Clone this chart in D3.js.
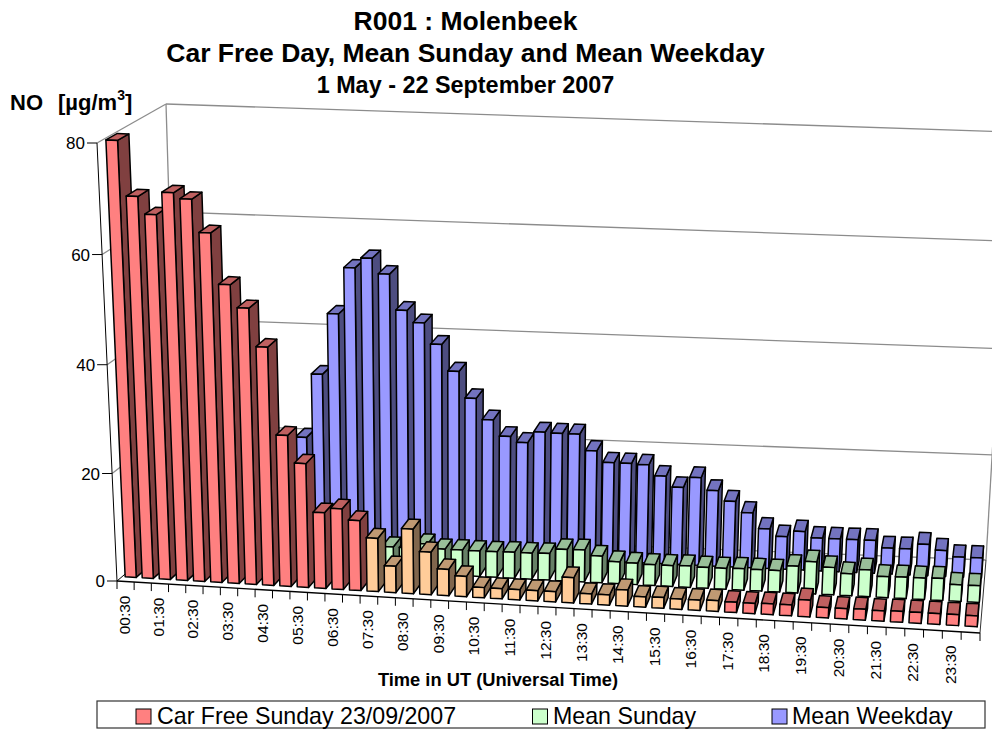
<!DOCTYPE html>
<html><head><meta charset="utf-8">
<script src="https://cdn.jsdelivr.net/npm/d3@7"></script>
<style>html,body{margin:0;padding:0;background:#fff}svg{display:block}text{font-family:"Liberation Sans",Arial,sans-serif;fill:#000}</style>
</head><body><svg id="c" width="992" height="729"></svg>
<script>
const categories = ["00:30","01:00","01:30","02:00","02:30","03:00","03:30","04:00","04:30","05:00","05:30","06:00","06:30","07:00","07:30","08:00","08:30","09:00","09:30","10:00","10:30","11:00","11:30","12:00","12:30","13:00","13:30","14:00","14:30","15:00","15:30","16:00","16:30","17:00","17:30","18:00","18:30","19:00","19:30","20:00","20:30","21:00","21:30","22:00","22:30","23:00","23:30","00:00"];
const seriesNames = ["Car Free Sunday 23/09/2007","Mean Sunday","Mean Weekday"];
const carFreeSunday = [80,70.1,67,71.1,70.1,64.2,55,50.9,44,28,23,14.1,15,13,9.9,4.9,12,7.9,4.9,3.8,1.9,1.9,1.9,1.9,1.9,4.7,1.9,1.9,3,1.9,2,1.9,1.9,2,1.9,1.9,2,2,3.1,1.9,1.9,2,1.9,2,2,2,2,2];
const meanSunday = [6,5,4,4,3,3,3,3,3,4,4,4,5,5,4.7,4.7,5.6,4.8,4.8,4.8,4.8,4.9,4.9,5,5.9,6,5,4.1,4,3.9,3.9,4,3.9,3.9,4,4,4,5,6,5.1,4.1,5,3.9,4,4,4.1,3.1,3.1];
const meanWeekday = [15,13,11,10,10,11,14,17,21,33,44.4,53.1,55,52.2,45.6,43.4,39.5,34.6,29.7,25.8,22.8,21.8,23.9,23.8,23.8,20.8,18.7,18.7,18.6,16.6,14.6,16.6,14.3,12.4,10.4,7.5,6.2,7.3,6.2,6.2,6.2,6.2,4.9,4.9,5.9,4.9,3.8,3.8];
const seriesValues = [carFreeSunday, meanSunday, meanWeekday];
const valueTicks = [0,20,40,60,80];
const highlightFirst = "07:30", highlightLast = "17:00";
const titleLines = ["R001 : Molenbeek","Car Free Day, Mean Sunday and Mean Weekday","1 May - 22 September 2007"];

const palette = {
  red:{face:"#FF8080",side:"#804040",top:"#BF6060"},
  orange:{face:"#FFCC99",side:"#80664D",top:"#BF9973"},
  green:{face:"#CCFFCC",side:"#668066",top:"#99BF99"},
  blue:{face:"#9999FF",side:"#4D4D80",top:"#7373BF"}
};
const seriesColor = [palette.red, palette.green, palette.blue];

// chart box corners on screen: [front/back][bottom/top][left/right]
const box = {
  fbl:[117,581], fbr:[980,633], bbl:[179,528], bbr:[986,560],
  ftl:[97,143], ftr:[1006,188], btl:[166,104], btr:[1011,132]
};
const uWarp = 1.05, hWarp = 1.025;
const warp = (t,r)=>t/(t+(1-t)*r);
function lerp(a,b,t){return [a[0]+(b[0]-a[0])*t,a[1]+(b[1]-a[1])*t];}
function P(u,v,h){
  const w = warp(u,uWarp), z = warp(h,hWarp);
  const fb = lerp(box.fbl,box.fbr,w), ft = lerp(box.ftl,box.ftr,w);
  const bb = lerp(box.bbl,box.bbr,w), bt = lerp(box.btl,box.btr,w);
  return lerp(lerp(fb,bb,v),lerp(ft,bt,v),z);
}
const xBand = d3.scaleBand().domain(categories).range([0,1]).paddingInner(0.35).paddingOuter(0.175);
const xSlot = d3.scaleBand().domain(categories).range([0,1]);
const depth = d3.scaleBand().domain(seriesNames).range([0,1]).paddingInner(0.5).paddingOuter(0.25);
const hScale = d3.scaleLinear().domain([0,80]).range([0,1]);

const svg = d3.select("#c");
const gridCol = "#8c8c8c";
const line = (g,a,b,col,w)=>g.append("line").attr("x1",a[0]).attr("y1",a[1]).attr("x2",b[0]).attr("y2",b[1]).attr("stroke",col).attr("stroke-width",w);

const walls = svg.append("g");
valueTicks.forEach(t=>{
  const h = hScale(t);
  if(t>0){
    line(walls,P(0,0,h),P(0,1,h),gridCol,1.3);
    line(walls,P(0,1,h),P(1,1,h),gridCol,1.3);
  }
});
line(walls,P(0,1,0),P(0,1,1),gridCol,1.3);
line(walls,P(1,1,0),P(1,1,1),gridCol,1.3);
line(walls,P(0,1,0),P(1,1,0),gridCol,1.3);
line(walls,P(0,0,0),P(0,1,0),"#000",1);
line(walls,P(1,0,0),P(1,1,0),"#333",1);
line(walls,P(0,0,0),P(0,0,1),"#000",1);

const bars = svg.append("g");
function poly(pts,fill){
  bars.append("polygon").attr("points",pts.map(p=>p.join(",")).join(" "))
    .attr("fill",fill).attr("stroke","#000").attr("stroke-width",1.5).attr("stroke-linejoin","round");
}
const hiA = categories.indexOf(highlightFirst), hiB = categories.indexOf(highlightLast);
[2,1,0].forEach(s=>{
  const vals = seriesValues[s];
  const v0 = depth(seriesNames[s]), v1 = v0+depth.bandwidth();
  categories.forEach((c,i)=>{
    const u0 = xBand(c), u1 = u0+xBand.bandwidth(), h = hScale(vals[i]);
    const col = (s===0 && i>=hiA && i<=hiB) ? palette.orange : seriesColor[s];
    poly([P(u1,v0,0),P(u1,v1,0),P(u1,v1,h),P(u1,v0,h)],col.side);
    poly([P(u0,v0,h),P(u1,v0,h),P(u1,v1,h),P(u0,v1,h)],col.top);
    poly([P(u0,v0,0),P(u1,v0,0),P(u1,v0,h),P(u0,v0,h)],col.face);
  });
});

const axes = svg.append("g");
line(axes,P(0,0,0),P(1,0,0),"#000",1.3);
valueTicks.forEach(t=>{
  const p = P(0,0,hScale(t));
  line(axes,[p[0]-10,p[1]],p,"#000",1);
  axes.append("text").attr("x",p[0]-12).attr("y",p[1]).attr("dy","0.36em").attr("text-anchor","end").attr("font-size",17).text(t);
});
d3.range(0,49).forEach(i=>{
  const p = P(i/48,0,0);
  line(axes,p,[p[0],p[1]+8],"#000",1);
});
categories.forEach((c,i)=>{
  if(i%2) return;
  const p = P(xSlot(c)+xSlot.bandwidth()/2,0,0);
  axes.append("text").attr("transform",`translate(${p[0]+4},${p[1]+14}) rotate(-90)`)
    .attr("text-anchor","end").attr("font-size",15.5).text(c);
});

[[30,26.5],[62,26.5],[93,23.4]].forEach((d,i)=>{
  svg.append("text").attr("x",465.5).attr("y",d[0]).attr("text-anchor","middle").attr("font-size",d[1]).attr("font-weight","bold").text(titleLines[i]);
});
const yt = svg.append("text").attr("x",10).attr("y",110).attr("font-size",22).attr("font-weight","bold");
yt.append("tspan").text("NO");
yt.append("tspan").attr("x",58).text("[µg/m");
yt.append("tspan").attr("dy",-10).attr("font-size",14).text("3");
yt.append("tspan").attr("dy",10).text("]");
svg.append("text").attr("x",498).attr("y",686).attr("text-anchor","middle").attr("font-size",18.3).attr("font-weight","bold").text("Time in UT (Universal Time)");

const lg = svg.append("g");
lg.append("rect").attr("x",97).attr("y",701).attr("width",888).attr("height",27).attr("fill","#fff").attr("stroke","#333").attr("stroke-width",1.2);
[[136,157,palette.red],[532.5,553,palette.green],[772,792,palette.blue]].forEach((d,i)=>{
  lg.append("rect").attr("x",d[0]).attr("y",709).attr("width",15).attr("height",15).attr("fill",d[2].face).attr("stroke","#000").attr("stroke-width",1);
  lg.append("text").attr("x",d[1]).attr("y",724).attr("font-size",23.2).text(seriesNames[i]);
});
</script></body></html>
